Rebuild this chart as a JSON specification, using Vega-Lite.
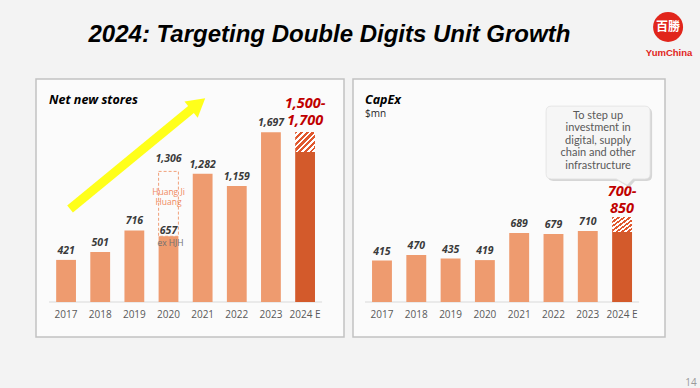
{
  "$schema": "https://vega.github.io/schema/vega-lite/v6.json",
  "background": "#f3f3f3",
  "padding": {"left": 35, "top": 11, "right": 5, "bottom": 0},
  "bounds": "flush",
  "spacing": 9,
  "title": {
    "text": "2024: Targeting Double Digits Unit Growth",
    "font": "Liberation Sans",
    "fontSize": 24,
    "fontWeight": "bold",
    "fontStyle": "italic",
    "color": "#000000",
    "anchor": "middle",
    "baseline": "alphabetic",
    "dx": -37,
    "offset": -55
  },
  "config": {
    "view": {"stroke": "#c2c2c2", "strokeWidth": 1.5, "fill": "#fbfbfb"},
    "axisX": {
      "title": null,
      "offset": -35,
      "domain": false,
      "ticks": false,
      "grid": false,
      "labelAngle": 0,
      "labelPadding": 7,
      "labelFont": "Open Sans",
      "labelFontSize": 10,
      "labelColor": "#595959"
    }
  },
  "datasets": {
    "stores": [
      {"year": "2017", "value": 421},
      {"year": "2018", "value": 501},
      {"year": "2019", "value": 716},
      {"year": "2020", "value": 657, "total": 1306},
      {"year": "2021", "value": 1282},
      {"year": "2022", "value": 1159},
      {"year": "2023", "value": 1697},
      {"year": "2024 E", "value": 1500, "high": 1700, "range": "1,500-\n1,700"}
    ],
    "capex": [
      {"year": "2017", "value": 415},
      {"year": "2018", "value": 470},
      {"year": "2019", "value": 435},
      {"year": "2020", "value": 419},
      {"year": "2021", "value": 689},
      {"year": "2022", "value": 679},
      {"year": "2023", "value": 710},
      {"year": "2024 E", "value": 700, "high": 850, "range": "700-\n850"}
    ],
    "notes_left": [
      {"kind": "heading", "year": "2017", "value": 2020, "text": "Net new stores"},
      {"kind": "arrow", "year": "2017", "year2": "2021", "value": 930, "value2": 1950},
      {"kind": "head", "year": "2021", "value": 1980},
      {"kind": "hjh", "year": "2020", "value": 1140, "text": "Huang Ji\nHuang"},
      {"kind": "ex", "year": "2020", "value": 590, "text": "ex HJH"},
      {"kind": "base", "year": "2017", "year2": "2024 E", "value": 0}
    ],
    "notes_right": [
      {"kind": "heading", "year": "2017", "value": 2025, "text": "CapEx"},
      {"kind": "unit", "year": "2017", "value": 1880, "text": "$mn"},
      {"kind": "callout", "year": "2024 E", "value": 1595, "top": 1925, "text": "To step up\ninvestment in\ndigital, supply\nchain and other\ninfrastructure"},
      {"kind": "base", "year": "2017", "year2": "2024 E", "value": 0},
      {"kind": "logo", "year": "2024 E", "value": 2750, "text": "百勝"},
      {"kind": "brand", "year": "2024 E", "value": 2490, "text": "YumChina"},
      {"kind": "page", "year": "2024 E", "value": -805, "text": "14"}
    ]
  },
  "hconcat": [
    {
      "width": 308,
      "height": 258,
      "encoding": {
        "x": {
          "field": "year",
          "type": "ordinal",
          "scale": {"paddingInner": 0.42, "paddingOuter": 0.72, "align": 0.41}
        }
      },
      "layer": [
        {
          "data": {"name": "notes_left"},
          "transform": [{"filter": "datum.kind === 'base'"}],
          "mark": {"type": "rule", "color": "#d9d9d9", "strokeWidth": 1, "xOffset": -17, "x2Offset": 17},
          "encoding": {
            "x2": {"field": "year2"},
            "y": {"field": "value", "type": "quantitative", "scale": {"domain": [-350, 2230], "nice": false, "zero": false}, "axis": null}
          }
        },
        {
          "data": {"name": "stores"},
          "mark": {"type": "bar"},
          "encoding": {
            "y": {"field": "value", "type": "quantitative", "scale": {"domain": [-350, 2230], "nice": false, "zero": false}, "axis": null},
            "y2": {"datum": 0},
            "color": {"condition": {"test": "datum.year === '2024 E'", "value": "#d35a2b"}, "value": "#ee9b6f"}
          }
        },
        {
          "data": {"name": "stores"},
          "transform": [{"filter": "isValid(datum.high)"}],
          "mark": {
            "type": "bar",
            "fill": {
              "gradient": "linear", "x1": 0, "y1": 0, "x2": 1, "y2": 1,
              "stops": [
                {"offset": 0, "color": "#e0582e"}, {"offset": 0.07, "color": "#e0582e"},
                {"offset": 0.07, "color": "#ffffff"}, {"offset": 0.14, "color": "#ffffff"},
                {"offset": 0.14, "color": "#e0582e"}, {"offset": 0.21, "color": "#e0582e"},
                {"offset": 0.21, "color": "#ffffff"}, {"offset": 0.28, "color": "#ffffff"},
                {"offset": 0.28, "color": "#e0582e"}, {"offset": 0.35, "color": "#e0582e"},
                {"offset": 0.35, "color": "#ffffff"}, {"offset": 0.42, "color": "#ffffff"},
                {"offset": 0.42, "color": "#e0582e"}, {"offset": 0.5, "color": "#e0582e"},
                {"offset": 0.5, "color": "#ffffff"}, {"offset": 0.57, "color": "#ffffff"},
                {"offset": 0.57, "color": "#e0582e"}, {"offset": 0.64, "color": "#e0582e"},
                {"offset": 0.64, "color": "#ffffff"}, {"offset": 0.71, "color": "#ffffff"},
                {"offset": 0.71, "color": "#e0582e"}, {"offset": 0.78, "color": "#e0582e"},
                {"offset": 0.78, "color": "#ffffff"}, {"offset": 0.85, "color": "#ffffff"},
                {"offset": 0.85, "color": "#e0582e"}, {"offset": 0.92, "color": "#e0582e"},
                {"offset": 0.92, "color": "#ffffff"}, {"offset": 1, "color": "#ffffff"}
              ]
            }
          },
          "encoding": {
            "y": {"field": "value", "type": "quantitative"},
            "y2": {"field": "high"}
          }
        },
        {
          "data": {"name": "stores"},
          "transform": [{"filter": "isValid(datum.total)"}],
          "mark": {"type": "bar", "fillOpacity": 0, "stroke": "#f0a07a", "strokeWidth": 1, "strokeDash": [3, 2]},
          "encoding": {
            "y": {"field": "value", "type": "quantitative"},
            "y2": {"field": "total"}
          }
        },
        {
          "data": {"name": "stores"},
          "transform": [{"filter": "datum.year !== '2024 E' && datum.year !== '2020'"}],
          "mark": {"type": "text", "font": "Open Sans", "fontSize": 10.5, "fontWeight": "bold", "fontStyle": "italic", "color": "#3a3a3a", "baseline": "alphabetic", "dy": -6},
          "encoding": {
            "y": {"field": "value", "type": "quantitative"},
            "text": {"field": "value", "type": "quantitative", "format": ","}
          }
        },
        {
          "data": {"name": "stores"},
          "transform": [{"filter": "datum.year === '2020'"}],
          "mark": {"type": "text", "font": "Open Sans", "fontSize": 10.5, "fontWeight": "bold", "fontStyle": "italic", "color": "#3a3a3a", "baseline": "alphabetic", "dy": -2},
          "encoding": {
            "y": {"field": "value", "type": "quantitative"},
            "text": {"field": "value", "type": "quantitative", "format": ","}
          }
        },
        {
          "data": {"name": "stores"},
          "transform": [{"filter": "isValid(datum.total)"}],
          "mark": {"type": "text", "font": "Open Sans", "fontSize": 10.5, "fontWeight": "bold", "fontStyle": "italic", "color": "#3a3a3a", "baseline": "alphabetic", "dy": -9},
          "encoding": {
            "y": {"field": "total", "type": "quantitative"},
            "text": {"field": "total", "type": "quantitative", "format": ","}
          }
        },
        {
          "data": {"name": "stores"},
          "transform": [{"filter": "isValid(datum.high)"}],
          "mark": {"type": "text", "font": "Open Sans", "fontSize": 14.5, "fontWeight": "bold", "fontStyle": "italic", "color": "#c00000", "baseline": "alphabetic", "dy": -24.5, "lineBreak": "\n", "lineHeight": 17},
          "encoding": {
            "y": {"field": "high", "type": "quantitative"},
            "text": {"field": "range"}
          }
        },
        {
          "data": {"name": "notes_left"},
          "transform": [{"filter": "datum.kind === 'heading'"}],
          "mark": {"type": "text", "font": "Open Sans", "fontSize": 12.5, "fontWeight": "bold", "fontStyle": "italic", "color": "#000000", "align": "left", "baseline": "middle", "xOffset": -17},
          "encoding": {
            "y": {"field": "value", "type": "quantitative"},
            "text": {"field": "text"}
          }
        },
        {
          "data": {"name": "notes_left"},
          "transform": [{"filter": "datum.kind === 'hjh'"}],
          "mark": {"type": "text", "font": "Open Sans", "fontSize": 8.5, "color": "#f08a60", "align": "center", "baseline": "top", "lineBreak": "\n", "lineHeight": 10},
          "encoding": {
            "y": {"field": "value", "type": "quantitative"},
            "text": {"field": "text"}
          }
        },
        {
          "data": {"name": "notes_left"},
          "transform": [{"filter": "datum.kind === 'ex'"}],
          "mark": {"type": "text", "font": "Open Sans", "fontSize": 8.5, "color": "#6f6f6f", "align": "center", "baseline": "middle", "xOffset": 2},
          "encoding": {
            "y": {"field": "value", "type": "quantitative"},
            "text": {"field": "text"}
          }
        },
        {
          "data": {"name": "notes_left"},
          "transform": [{"filter": "datum.kind === 'arrow'"}],
          "mark": {"type": "rule", "color": "#ffff1a", "strokeWidth": 9, "xOffset": 4, "x2Offset": -8.6},
          "encoding": {
            "x2": {"field": "year2"},
            "y": {"field": "value", "type": "quantitative"},
            "y2": {"field": "value2"}
          }
        },
        {
          "data": {"name": "notes_left"},
          "transform": [{"filter": "datum.kind === 'head'"}],
          "mark": {"type": "point", "shape": "triangle-up", "filled": true, "color": "#ffff1a", "opacity": 1, "size": 440, "angle": 51, "xOffset": -4.5},
          "encoding": {
            "y": {"field": "value", "type": "quantitative"}
          }
        }
      ]
    },
    {
      "width": 312,
      "height": 258,
      "encoding": {
        "x": {
          "field": "year",
          "type": "ordinal",
          "scale": {"paddingInner": 0.42, "paddingOuter": 0.758, "align": 0.366},
          "axis": {"title": null}
        }
      },
      "layer": [
        {
          "data": {"name": "notes_right"},
          "transform": [{"filter": "datum.kind === 'base'"}],
          "mark": {"type": "rule", "color": "#d9d9d9", "strokeWidth": 1, "xOffset": -17, "x2Offset": 17},
          "encoding": {
            "x2": {"field": "year2"},
            "y": {"field": "value", "type": "quantitative", "scale": {"domain": [-350, 2230], "nice": false, "zero": false}, "axis": null}
          }
        },
        {
          "data": {"name": "capex"},
          "mark": {"type": "bar"},
          "encoding": {
            "y": {"field": "value", "type": "quantitative", "scale": {"domain": [-350, 2230], "nice": false, "zero": false}, "axis": null},
            "y2": {"datum": 0},
            "color": {"condition": {"test": "datum.year === '2024 E'", "value": "#d35a2b"}, "value": "#ee9b6f"}
          }
        },
        {
          "data": {"name": "capex"},
          "transform": [{"filter": "isValid(datum.high)"}],
          "mark": {
            "type": "bar",
            "fill": {
              "gradient": "linear", "x1": 0, "y1": 0, "x2": 1, "y2": 1,
              "stops": [
                {"offset": 0, "color": "#e0582e"}, {"offset": 0.07, "color": "#e0582e"},
                {"offset": 0.07, "color": "#ffffff"}, {"offset": 0.14, "color": "#ffffff"},
                {"offset": 0.14, "color": "#e0582e"}, {"offset": 0.21, "color": "#e0582e"},
                {"offset": 0.21, "color": "#ffffff"}, {"offset": 0.28, "color": "#ffffff"},
                {"offset": 0.28, "color": "#e0582e"}, {"offset": 0.35, "color": "#e0582e"},
                {"offset": 0.35, "color": "#ffffff"}, {"offset": 0.42, "color": "#ffffff"},
                {"offset": 0.42, "color": "#e0582e"}, {"offset": 0.5, "color": "#e0582e"},
                {"offset": 0.5, "color": "#ffffff"}, {"offset": 0.57, "color": "#ffffff"},
                {"offset": 0.57, "color": "#e0582e"}, {"offset": 0.64, "color": "#e0582e"},
                {"offset": 0.64, "color": "#ffffff"}, {"offset": 0.71, "color": "#ffffff"},
                {"offset": 0.71, "color": "#e0582e"}, {"offset": 0.78, "color": "#e0582e"},
                {"offset": 0.78, "color": "#ffffff"}, {"offset": 0.85, "color": "#ffffff"},
                {"offset": 0.85, "color": "#e0582e"}, {"offset": 0.92, "color": "#e0582e"},
                {"offset": 0.92, "color": "#ffffff"}, {"offset": 1, "color": "#ffffff"}
              ]
            }
          },
          "encoding": {
            "y": {"field": "value", "type": "quantitative"},
            "y2": {"field": "high"}
          }
        },
        {
          "data": {"name": "capex"},
          "transform": [{"filter": "datum.year !== '2024 E'"}],
          "mark": {"type": "text", "font": "Open Sans", "fontSize": 10.5, "fontWeight": "bold", "fontStyle": "italic", "color": "#3a3a3a", "baseline": "alphabetic", "dy": -6},
          "encoding": {
            "y": {"field": "value", "type": "quantitative"},
            "text": {"field": "value", "type": "quantitative", "format": ","}
          }
        },
        {
          "data": {"name": "capex"},
          "transform": [{"filter": "isValid(datum.high)"}],
          "mark": {"type": "text", "font": "Open Sans", "fontSize": 14.5, "fontWeight": "bold", "fontStyle": "italic", "color": "#c00000", "baseline": "alphabetic", "dy": -21, "lineBreak": "\n", "lineHeight": 17},
          "encoding": {
            "y": {"field": "high", "type": "quantitative"},
            "text": {"field": "range"}
          }
        },
        {
          "data": {"name": "notes_right"},
          "transform": [{"filter": "datum.kind === 'heading'"}],
          "mark": {"type": "text", "font": "Open Sans", "fontSize": 12.5, "fontWeight": "bold", "fontStyle": "italic", "color": "#000000", "align": "left", "baseline": "middle", "xOffset": -17},
          "encoding": {
            "y": {"field": "value", "type": "quantitative"},
            "text": {"field": "text"}
          }
        },
        {
          "data": {"name": "notes_right"},
          "transform": [{"filter": "datum.kind === 'unit'"}],
          "mark": {"type": "text", "font": "Open Sans", "fontSize": 10, "color": "#262626", "align": "left", "baseline": "middle", "xOffset": -17},
          "encoding": {
            "y": {"field": "value", "type": "quantitative"},
            "text": {"field": "text"}
          }
        },
        {
          "data": {"name": "notes_right"},
          "transform": [{"filter": "datum.kind === 'callout'"}],
          "mark": {"type": "point", "filled": true, "color": "#b8b8b8", "opacity": 0.55, "size": 10816, "xOffset": -22, "yOffset": 2,
            "shape": "M-0.9,-0.7 L0.9,-0.7 Q1,-0.7 1,-0.6 L1,0.6 Q1,0.7 0.9,0.7 L0.67,0.7 L0.56,0.82 L0.35,0.7 L-0.9,0.7 Q-1,0.7 -1,0.6 L-1,-0.6 Q-1,-0.7 -0.9,-0.7 Z"},
          "encoding": {
            "y": {"field": "value", "type": "quantitative"}
          }
        },
        {
          "data": {"name": "notes_right"},
          "transform": [{"filter": "datum.kind === 'callout'"}],
          "mark": {"type": "point", "filled": true, "color": "#f6f6f6", "opacity": 1, "size": 10816, "xOffset": -24, "stroke": "#e2e2e2", "strokeWidth": 0.8,
            "shape": "M-0.9,-0.7 L0.9,-0.7 Q1,-0.7 1,-0.6 L1,0.6 Q1,0.7 0.9,0.7 L0.67,0.7 L0.56,0.82 L0.35,0.7 L-0.9,0.7 Q-1,0.7 -1,0.6 L-1,-0.6 Q-1,-0.7 -0.9,-0.7 Z"},
          "encoding": {
            "y": {"field": "value", "type": "quantitative"}
          }
        },
        {
          "data": {"name": "notes_right"},
          "transform": [{"filter": "datum.kind === 'callout'"}],
          "mark": {"type": "text", "font": "Lato", "fontSize": 11, "color": "#595959", "align": "center", "baseline": "top", "lineBreak": "\n", "lineHeight": 12.6, "xOffset": -24},
          "encoding": {
            "y": {"field": "top", "type": "quantitative"},
            "text": {"field": "text"}
          }
        },
        {
          "data": {"name": "notes_right"},
          "transform": [{"filter": "datum.kind === 'logo'"}],
          "mark": {"type": "point", "shape": "circle", "filled": true, "color": "#e1251b", "opacity": 1, "size": 900, "xOffset": 46},
          "encoding": {
            "y": {"field": "value", "type": "quantitative"}
          }
        },
        {
          "data": {"name": "notes_right"},
          "transform": [{"filter": "datum.kind === 'logo'"}],
          "mark": {"type": "text", "font": "Noto Sans CJK TC", "fontSize": 12, "fontWeight": "bold", "color": "#ffffff", "align": "center", "baseline": "middle", "xOffset": 46},
          "encoding": {
            "y": {"field": "value", "type": "quantitative"},
            "text": {"field": "text"}
          }
        },
        {
          "data": {"name": "notes_right"},
          "transform": [{"filter": "datum.kind === 'brand'"}],
          "mark": {"type": "text", "font": "Liberation Sans", "fontSize": 9.5, "fontWeight": "bold", "color": "#e1251b", "align": "center", "baseline": "middle", "xOffset": 47},
          "encoding": {
            "y": {"field": "value", "type": "quantitative"},
            "text": {"field": "text"}
          }
        },
        {
          "data": {"name": "notes_right"},
          "transform": [{"filter": "datum.kind === 'page'"}],
          "mark": {"type": "text", "font": "Open Sans", "fontSize": 10, "color": "#9a9a9a", "align": "center", "baseline": "middle", "xOffset": 69},
          "encoding": {
            "y": {"field": "value", "type": "quantitative"},
            "text": {"field": "text"}
          }
        }
      ]
    }
  ]
}
